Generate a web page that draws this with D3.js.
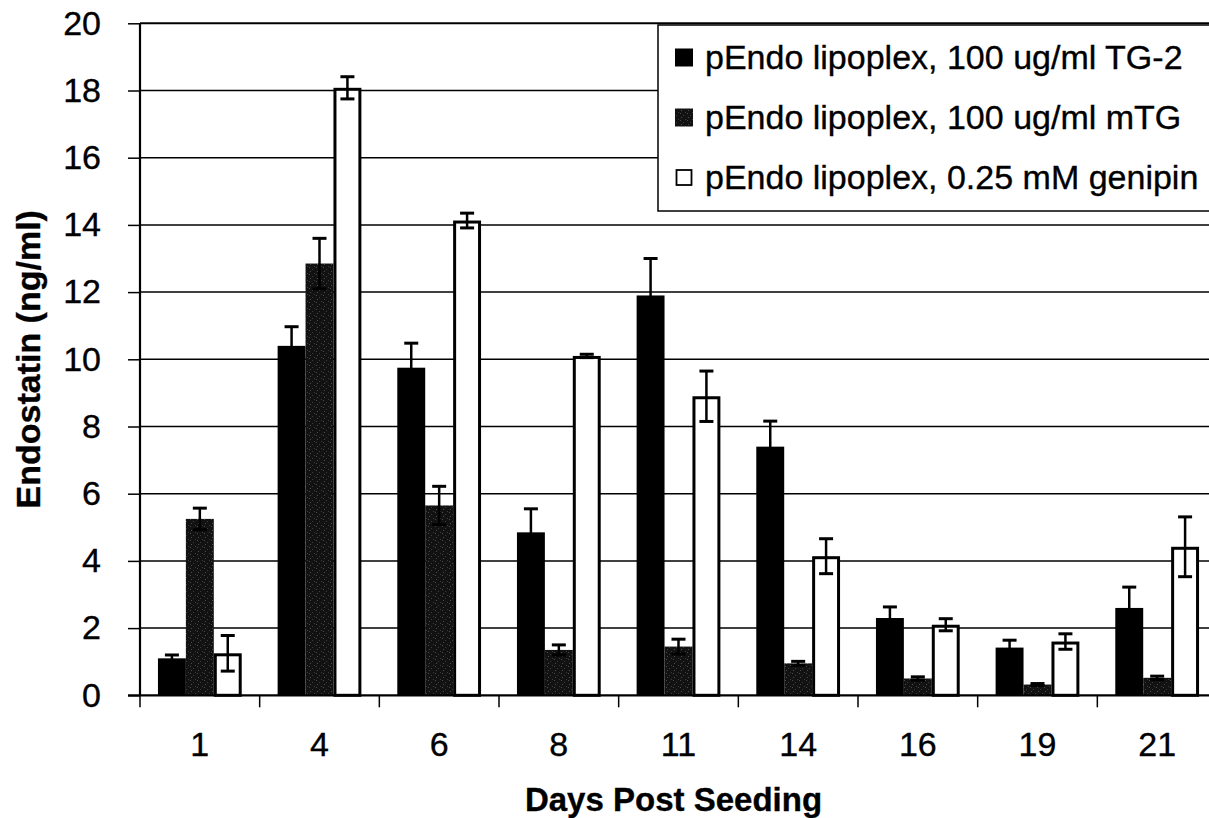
<!DOCTYPE html>
<html>
<head>
<meta charset="utf-8">
<script src="https://cdn.jsdelivr.net/npm/d3@7/dist/d3.min.js"></script>
<style>
  html, body { margin: 0; padding: 0; background: #fff; }
  svg { display: block; }
  text { font-family: "Liberation Sans", Arial, Helvetica, sans-serif; fill: #000; stroke: #000; stroke-width: 0.35px; }
</style>
</head>
<body>
<div id="chart"></div>
<script>
// Endostatin release (ng/ml) by day post seeding, mean with error
const days = ["1", "4", "6", "8", "11", "14", "16", "19", "21"];
const tg2Values = [1.1, 10.4, 9.75, 4.85, 11.9, 7.4, 2.3, 1.42, 2.6];
const tg2Errors = [0.1, 0.57, 0.73, 0.7, 1.1, 0.76, 0.33, 0.22, 0.62];
const mtgValues = [5.25, 12.85, 5.65, 1.35, 1.45, 0.95, 0.5, 0.32, 0.52];
const mtgErrors = [0.32, 0.75, 0.57, 0.15, 0.22, 0.06, 0.05, 0.03, 0.05];
const genipinValues = [1.25, 18.08, 14.13, 10.1, 8.9, 4.14, 2.1, 1.6, 4.42];
const genipinErrors = [0.53, 0.33, 0.22, 0.05, 0.75, 0.52, 0.18, 0.23, 0.89];
const seriesNames = [
  "pEndo lipoplex, 100 ug/ml TG-2",
  "pEndo lipoplex, 100 ug/ml mTG",
  "pEndo lipoplex, 0.25 mM genipin"
];
const yTicks = [0, 2, 4, 6, 8, 10, 12, 14, 16, 18, 20];

const W = 1209, H = 818;
const plot = { left: 140, top: 23.3, right: 1217, bottom: 695.3 };

const svg = d3.select("#chart").append("svg")
  .attr("width", W).attr("height", H);

// speckled near-black fill for the mTG series
const defs = svg.append("defs");
const pat = defs.append("pattern")
  .attr("id", "stipple").attr("patternUnits", "userSpaceOnUse")
  .attr("width", 7).attr("height", 7);
pat.append("rect").attr("width", 7).attr("height", 7).attr("fill", "#121212");
[[1, 1], [4, 3], [2, 5], [6, 0]].forEach(([px, py], i) => {
  pat.append("rect").attr("x", px).attr("y", py).attr("width", 1).attr("height", 1)
    .attr("fill", i % 2 ? "#3c3c3c" : "#4c4c4c");
});

const x0 = d3.scaleBand().domain(days)
  .range([plot.left, plot.right]).paddingInner(0.3).paddingOuter(0.15);
const x1 = d3.scaleBand().domain([0, 1, 2])
  .range([0, x0.bandwidth()]).padding(0);
const y = d3.scaleLinear().domain([0, 20]).range([plot.bottom, plot.top]);

const series = [
  { values: tg2Values, errors: tg2Errors, fill: "#000", stroke: "none", sw: 0 },
  { values: mtgValues, errors: mtgErrors, fill: "url(#stipple)", stroke: "none", sw: 0 },
  { values: genipinValues, errors: genipinErrors, fill: "#fff", stroke: "#000", sw: 3 }
];

// horizontal gridlines
svg.append("g").selectAll("line").data(yTicks.filter(d => d > 0)).join("line")
  .attr("x1", plot.left).attr("x2", plot.right)
  .attr("y1", d => y(d)).attr("y2", d => y(d))
  .attr("stroke", "#000").attr("stroke-width", d => d === 20 ? 2 : 1.5);

// bars
series.forEach((s, si) => {
  const g = svg.append("g");
  g.selectAll("rect").data(days).join("rect")
    .attr("x", (d, i) => x0(d) + x1(si) + s.sw / 2)
    .attr("width", x1.bandwidth() - s.sw)
    .attr("y", (d, i) => y(s.values[i]) + s.sw / 2)
    .attr("height", (d, i) => y(0) - y(s.values[i]) - s.sw / 2)
    .attr("fill", s.fill)
    .attr("stroke", s.stroke)
    .attr("stroke-width", s.sw);
});

// error bars
series.forEach((s, si) => {
  const g = svg.append("g").attr("stroke", "#000");
  days.forEach((d, i) => {
    const cx = x0(d) + x1(si) + x1.bandwidth() / 2;
    const hi = y(s.values[i] + s.errors[i]);
    const lo = y(s.values[i] - s.errors[i]);
    g.append("line").attr("x1", cx).attr("x2", cx).attr("y1", hi).attr("y2", lo)
      .attr("stroke-width", 2.5);
    [hi, lo].forEach(yy => {
      g.append("line").attr("x1", cx - 7).attr("x2", cx + 7)
        .attr("y1", yy).attr("y2", yy).attr("stroke-width", 3);
    });
  });
});

// y axis
const yAxis = svg.append("g").attr("transform", `translate(${plot.left},0)`)
  .call(d3.axisLeft(y).tickValues(yTicks).tickSize(12).tickPadding(27).tickFormat(d3.format("d")));
yAxis.select(".domain").attr("stroke", "#000").attr("stroke-width", 2.2)
  .attr("d", `M0,${plot.top}V${plot.bottom}`);
yAxis.selectAll(".tick line").attr("stroke", "#000").attr("stroke-width", 1.5);
yAxis.selectAll(".tick text").attr("font-size", 34)
  .attr("font-family", "Liberation Sans, Arial, sans-serif").attr("fill", "#000");

// x axis with ticks on category boundaries
const xAxisG = svg.append("g");
xAxisG.append("line").attr("x1", plot.left - 12).attr("x2", plot.right)
  .attr("y1", plot.bottom).attr("y2", plot.bottom)
  .attr("stroke", "#000").attr("stroke-width", 2.2);
const boundaries = days.map(d => x0(d) - x0.step() * 0.15).concat([plot.right]);
xAxisG.selectAll("line.tk").data(boundaries).join("line").attr("class", "tk")
  .attr("x1", d => d).attr("x2", d => d)
  .attr("y1", plot.bottom).attr("y2", plot.bottom + 12)
  .attr("stroke", "#000").attr("stroke-width", 1.5);
xAxisG.selectAll("text").data(days).join("text")
  .attr("x", d => x0(d) + x0.bandwidth() / 2)
  .attr("y", 756)
  .attr("text-anchor", "middle")
  .attr("font-size", 34)
  .text(d => d);

// axis titles
svg.append("text")
  .attr("x", (plot.left + plot.right) / 2 - 5).attr("y", 811)
  .attr("text-anchor", "middle").attr("font-size", 33).attr("font-weight", "bold")
  .text("Days Post Seeding");
svg.append("text")
  .attr("transform", `translate(40,${(plot.top + plot.bottom) / 2}) rotate(-90)`)
  .attr("text-anchor", "middle").attr("font-size", 34).attr("font-weight", "bold")
  .text("Endostatin (ng/ml)");

// legend
const legend = svg.append("g");
legend.append("rect").attr("x", 658).attr("y", 25).attr("width", 570).attr("height", 186)
  .attr("fill", "#fff").attr("stroke", "#000").attr("stroke-width", 1.5);
series.forEach((s, si) => {
  const cy = 57.5 + si * 60;
  legend.append("rect").attr("x", 675 + s.sw / 2).attr("y", cy - 9 + s.sw / 2)
    .attr("width", 18 - s.sw).attr("height", 18 - s.sw)
    .attr("fill", s.fill).attr("stroke", s.stroke).attr("stroke-width", s.sw ? 1.8 : 0);
  legend.append("text").attr("x", 705).attr("y", cy).attr("dy", "0.35em")
    .attr("font-size", 34).text(seriesNames[si]);
});
</script>
</body>
</html>
